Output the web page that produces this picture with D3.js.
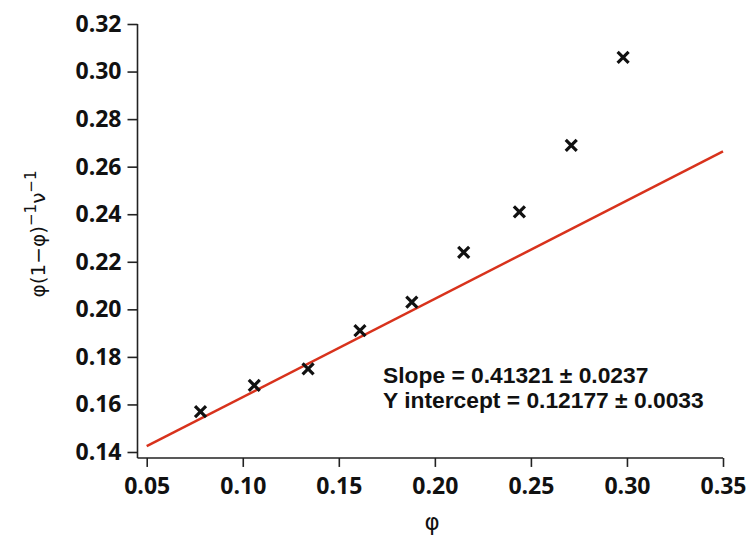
<!DOCTYPE html>
<html>
<head>
<meta charset="utf-8">
<script src="https://cdn.jsdelivr.net/npm/d3@7"></script>
<style>
  body { margin: 0; background: #fff; }
  svg { display: block; }
  .tick text { font-family: "Open Sans", sans-serif; font-weight: bold; font-size: 23px; fill: #111; }
</style>
</head>
<body>
<script>
// data
var phi = [0.078, 0.106, 0.134, 0.161, 0.188, 0.215, 0.244, 0.271, 0.298];
var yval = [0.157, 0.168, 0.175, 0.191, 0.203, 0.224, 0.241, 0.269, 0.306];
var fitSlope = 0.41321, fitIntercept = 0.12177;
var fitRange = [0.05, 0.35];
var xTicks = [0.05, 0.10, 0.15, 0.20, 0.25, 0.30, 0.35];
var yTicks = [0.14, 0.16, 0.18, 0.20, 0.22, 0.24, 0.26, 0.28, 0.30, 0.32];
var notes = ["Slope = 0.41321 \u00b1 0.0237", "Y intercept = 0.12177 \u00b1 0.0033"];

var W = 749, H = 537;
var svg = d3.select("body").append("svg").attr("width", W).attr("height", H);

var x = d3.scaleLinear().domain([0.0452, 0.35]).range([137.5, 723]);
var y = d3.scaleLinear().domain([0.14, 0.32]).range([452, 24]);
var x0 = x(0.0452), axisY = y(0.1375);

// axes
var gx = svg.append("g").attr("transform", "translate(0," + axisY + ")")
  .call(d3.axisBottom(x).tickValues(xTicks).tickFormat(d3.format(".2f")).tickSizeOuter(0).tickSize(9).tickPadding(11));
var gy = svg.append("g").attr("transform", "translate(" + x0 + ",0)")
  .call(d3.axisLeft(y).tickValues(yTicks).tickFormat(d3.format(".2f")).tickSizeOuter(0).tickSize(10).tickPadding(6));
[gx, gy].forEach(function(g){
  g.select(".domain").remove();
  g.selectAll(".tick line").attr("stroke", "#222").attr("stroke-width", 1.6);
});
svg.append("line").attr("x1", x0).attr("x2", x0).attr("y1", y(0.32)).attr("y2", axisY)
  .attr("stroke", "#222").attr("stroke-width", 1.6);
svg.append("line").attr("x1", x0).attr("x2", x(0.35)).attr("y1", axisY).attr("y2", axisY)
  .attr("stroke", "#222").attr("stroke-width", 1.6);

// fit line
svg.append("line")
  .attr("x1", x(fitRange[0])).attr("y1", y(fitIntercept + fitSlope*fitRange[0]))
  .attr("x2", x(fitRange[1])).attr("y2", y(fitIntercept + fitSlope*fitRange[1]))
  .attr("stroke", "#d8321c").attr("stroke-width", 2.5);

// x markers
var s = 5.5;
svg.selectAll("path.pt").data(phi).enter().append("path")
  .attr("class", "pt")
  .attr("d", function(d, i){
    var cx = x(d), cy = y(yval[i]);
    return "M" + (cx-s) + "," + (cy-s) + "L" + (cx+s) + "," + (cy+s) +
           "M" + (cx-s) + "," + (cy+s) + "L" + (cx+s) + "," + (cy-s);
  })
  .attr("stroke", "#111").attr("stroke-width", 3.2).attr("fill", "none");

// annotation
svg.selectAll("text.note").data(notes).enter().append("text")
  .attr("class", "note")
  .attr("x", 383).attr("y", function(d, i){ return 383 + i*25; })
  .style("font-family", "'Liberation Sans', Arial, sans-serif")
  .style("font-size", "22.8px").style("font-weight", "bold").style("fill", "#111")
  .text(function(d){ return d; });

// axis titles
svg.append("text").attr("x", 432).attr("y", 530).attr("text-anchor", "middle")
  .style("font-family", "'DejaVu Sans', sans-serif").style("font-size", "23px").style("fill", "#111")
  .text("\u03c6");

var yl = svg.append("text").attr("transform", "translate(45,234) rotate(-90)").attr("text-anchor", "middle")
  .style("font-family", "'DejaVu Sans', sans-serif").style("font-size", "20px").style("fill", "#111");
yl.append("tspan").text("\u03c6(1\u2212\u03c6)");
yl.append("tspan").attr("dy", -9).style("font-size", "15px").text("\u22121");
yl.append("tspan").attr("dy", 9).text("\u03bd");
yl.append("tspan").attr("dy", -9).style("font-size", "15px").text("\u22121");
</script>
</body>
</html>
